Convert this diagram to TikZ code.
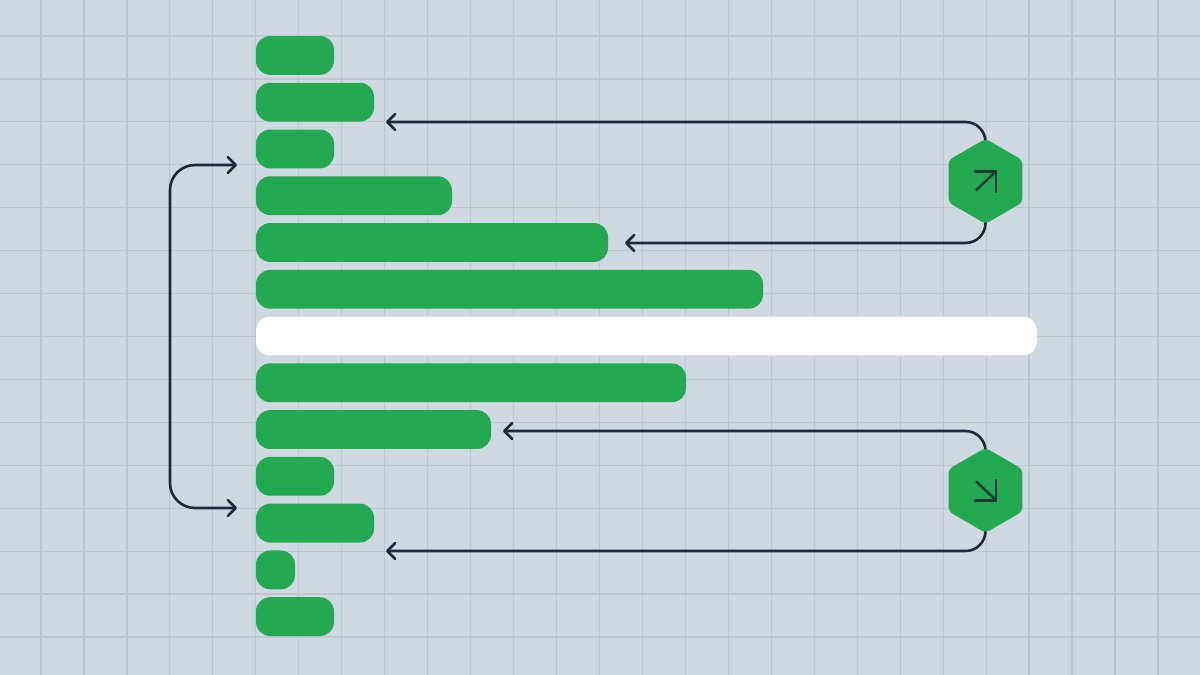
\documentclass[tikz,border=0pt]{standalone}
\usetikzlibrary{arrows.meta,shapes.geometric}
\definecolor{bgc}{HTML}{D0D8E2}
\definecolor{gridc}{HTML}{BDC7D1}
\definecolor{barc}{HTML}{22A951}
\definecolor{linec}{HTML}{1E2A38}
\definecolor{glyphc}{HTML}{1F3A3C}
\pgfdeclarelayer{backdrop}
\pgfdeclarelayer{under}
\pgfsetlayers{backdrop,under,main}
\tikzset{
  barbox/.style={draw=none,fill=#1,rounded corners=14pt,anchor=north west,inner sep=0pt,outer sep=0pt,minimum height=38.8pt},
  hexbox/.style={regular polygon,regular polygon sides=6,shape border rotate=30,minimum size=85pt,inner sep=0pt,outer sep=0pt,fill=barc,rounded corners=4pt},
  gridline/.style={gridc,line width=1.2pt},
  conn/.style={linec,line width=2.6pt,rounded corners=20pt,-{Straight Barb[length=8pt,width=16pt,round]}},
  loopconn/.style={linec,line width=2.6pt,rounded corners=25pt,{Straight Barb[length=8pt,width=16pt,round]}-{Straight Barb[length=8pt,width=16pt,round]}},
  glyph/.style={glyphc,line width=2.4pt,miter limit=10}
}
\begin{document}
\begin{tikzpicture}[x=1pt,y=-1pt]
\useasboundingbox (0,0) rectangle (1200,675);
\begin{pgfonlayer}{backdrop}
\fill[bgc] (0,0) rectangle (1200,675);
\foreach \k in {0,...,26} \draw[gridline] ({41+42.96*\k},0) -- ({41+42.96*\k},675);
\foreach \k in {0,...,14} \draw[gridline] (0,{36+42.93*\k}) -- (1200,{36+42.93*\k});
\end{pgfonlayer}
\foreach \n/\w/\c in {1/78/barc,2/118/barc,3/78/barc,4/196/barc,5/352/barc,6/507/barc,7/781/white,8/430/barc,9/235/barc,10/78/barc,11/118/barc,12/39/barc,13/78/barc}
  \node[barbox=\c,minimum width=\w pt] (bar\n) at (256,{36+46.77*(\n-1)}) {};
\node[hexbox] (hexup) at (985.5,181.3) {};
\node[hexbox] (hexdown) at (985.5,490.3) {};
\coordinate (tipa) at (386,122);
\coordinate (tipb) at (625,243);
\coordinate (tipc) at (503,431);
\coordinate (tipd) at (386,551);
\coordinate (tipe) at (237,165);
\coordinate (tipf) at (237,508);
\begin{pgfonlayer}{under}
\draw[conn] (hexup.center) |- (tipa);
\draw[conn] (hexup.center) |- (tipb);
\draw[conn] (hexdown.center) |- (tipc);
\draw[conn] (hexdown.center) |- (tipd);
\end{pgfonlayer}
\draw[loopconn] (tipe) -- (170,165) -- (170,508) -- (tipf);
\draw[glyph] ([shift={(-9.5,9)}]hexup.center) -- ([shift={(9.5,-9)}]hexup.center);
\draw[glyph] ([shift={(-11.5,-10)}]hexup.center) -- ([shift={(10.5,-10)}]hexup.center) -- ([shift={(10.5,11.5)}]hexup.center);
\draw[glyph] ([shift={(-9.5,-9)}]hexdown.center) -- ([shift={(9.5,9)}]hexdown.center);
\draw[glyph] ([shift={(-11.5,10)}]hexdown.center) -- ([shift={(10.5,10)}]hexdown.center) -- ([shift={(10.5,-11.5)}]hexdown.center);
\end{tikzpicture}
\end{document}
